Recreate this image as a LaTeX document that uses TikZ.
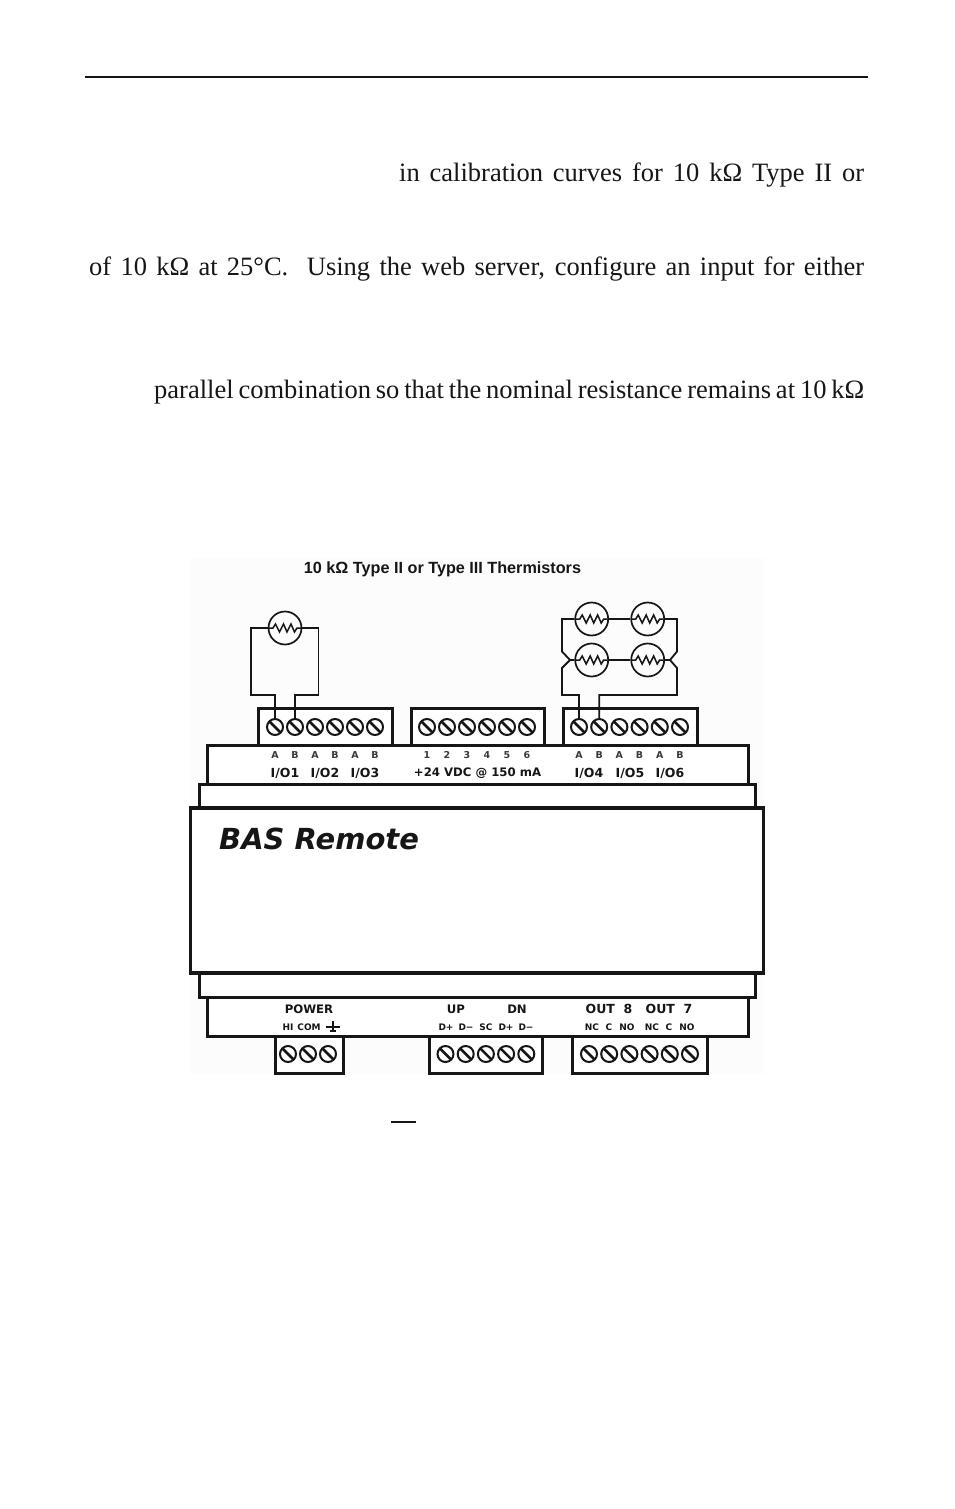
\documentclass[tikz,border=0pt]{standalone}
\usepackage{fontspec}
\setmainfont{Liberation Serif}
\newfontfamily\dvb{DejaVu Sans}[BoldFont={DejaVu Sans Bold},BoldItalicFont={DejaVu Sans Bold Oblique}]
\newfontfamily\lsans{Liberation Sans}
\definecolor{ink}{HTML}{161616}
\tikzset{
  x=1pt,y=-1pt,
  body/.style={anchor=base west,inner sep=0pt,font=\fontsize{26.5}{30}\selectfont,text=ink},
  box/.style={draw=ink,line width=3pt,fill=white,line join=miter},
  panel/.style={draw=ink,line width=3pt,fill=white},
  screw/.style={circle,draw=ink,line width=2pt,minimum size=16pt,inner sep=0pt,
    path picture={\draw[ink,line width=2.6pt] (path picture bounding box.north west) -- (path picture bounding box.south east);}},
  therm/.style={circle,draw=ink,line width=1.7pt,minimum size=33pt,inner sep=0pt,
    path picture={\draw[ink,line width=1.5pt,shift={(path picture bounding box.center)}]
      (-16,0)--(-12,0)--(-9.5,-4)--(-5.5,4)--(-1.5,-4)--(2,4)--(6,-4)--(9.5,4)--(12,0)--(16,0);}},
  wire/.style={draw=ink,line width=1.8pt,line join=miter},
  pin/.style={inner sep=0pt,text=ink!85,font=\dvb\bfseries\fontsize{9.5}{11}\selectfont},
  tiny/.style={inner sep=0pt,text=ink,font=\dvb\bfseries\fontsize{9}{11}\selectfont},
  lab/.style={inner sep=0pt,text=ink,font=\dvb\bfseries\fontsize{12.5}{15}\selectfont},
  labs/.style={inner sep=0pt,text=ink,font=\dvb\bfseries\fontsize{11.7}{15}\selectfont},
}
\begin{document}
\begin{tikzpicture}
\useasboundingbox (0,0) rectangle (954,1509);
\fill[white] (0,0) rectangle (954,1509);
\fill[black!1] (190,558) rectangle (764,1074);
\coordinate (ruleL) at (85,77); \coordinate (ruleR) at (868,77);
\draw[ink,line width=2.6pt] (ruleL) -- (ruleR);
% page text
\node[body] (l1) at (399,181) {\makebox[465pt][s]{in calibration curves for 10 kΩ Type II or}};
\node[body] (l2) at (89,275) {\makebox[775pt][s]{of 10 kΩ at 25°C.\ \ Using the web server, configure an input for either}};
\node[body] (l3) at (154,398) {\hbox to 710pt{\spaceskip=.2em plus .1em minus .1em\relax parallel combination so that the nominal resistance remains at 10 kΩ}};
\node[body] (dash) at (391,1129) {\makebox[25pt][l]{\rule[6.5pt]{25pt}{1.6pt}}};
\node[inner sep=0pt,text=ink,font=\lsans\bfseries\fontsize{16.2}{19}\selectfont] (title) at (442.5,569) {10 kΩ Type II or Type III Thermistors};
% housing, outer to inner
\draw[panel] (199,784) rectangle (755,808);
\draw[panel] (199,973) rectangle (755,997);
\draw[panel] (207,745) rectangle (748,784);
\draw[panel] (207,997) rectangle (748,1036);
\draw[draw=ink,line width=3.2pt,fill=white] (190.5,808) rectangle (763.5,973);
\node[anchor=base west,inner sep=0pt,text=ink,font=\dvb\bfseries\itshape\fontsize{29}{34}\selectfont] (brand) at (219,849.5) {BAS Remote};
% terminal blocks
\draw[box] (258,708.5) rectangle (392,745);
\draw[box] (411,708.5) rectangle (544,745);
\draw[box] (563,708.5) rectangle (697,745);
\draw[box] (275,1036) rectangle (343,1073);
\draw[box] (429,1036) rectangle (542,1073);
\draw[box] (572,1036) rectangle (707,1073);
% screws
\foreach \i in {0,...,5} {
  \node[screw] (ua\i) at ({275+20*\i},727) {};
  \node[screw] (ub\i) at ({427+20*\i},727) {};
  \node[screw] (uc\i) at ({579+20.2*\i},727) {};
  \node[screw] (lc\i) at ({589+20.2*\i},1054) {};
}
\foreach \i in {0,...,4} \node[screw] (lb\i) at ({445.5+20.2*\i},1054) {};
\foreach \i in {0,1,2} \node[screw] (la\i) at ({288+20*\i},1054) {};
% thermistors
\node[therm] (t0) at (285,628) {};
\node[therm] (t1) at (591.7,619) {};
\node[therm] (t2) at (647.7,619) {};
\node[therm] (t3) at (591.7,660) {};
\node[therm] (t4) at (647.7,660) {};
% wires
\draw[wire] (t0.west) -- (251,628) -- (251,695) -- (275,695) -- (ua0.north);
\draw[wire] (t0.east) -- (318.5,628) -- (318.5,695) -- (295,695) -- (ua1.north);
\draw[wire] (t1.east) -- (t2.west);
\draw[wire] (t3.east) -- (t4.west);
\draw[wire] (t1.west) -- (562,619) -- (562,651.5) -- (570,660) -- (t3.west);
\draw[wire] (t2.east) -- (677,619) -- (677,651.5) -- (670,660) -- (t4.east);
\draw[wire] (570,660) -- (562,668) -- (562,695) -- (579,695) -- (uc0.north);
\draw[wire] (670,660) -- (677,668) -- (677,695) -- (599.2,695) -- (uc1.north);
% upper labels
\foreach \i/\t in {0/A,1/B,2/A,3/B,4/A,5/B} {
  \node[pin] (pa\i) at ({275+20*\i},755) {\t};
  \node[pin] (pc\i) at ({579+20.2*\i},755) {\t};
}
\foreach \i/\t in {0/1,1/2,2/3,3/4,4/5,5/6} \node[pin] (pb\i) at ({427+20*\i},755) {\t};
\node[lab] (io1) at (285,773) {I/O1};
\node[lab] (io2) at (325,773) {I/O2};
\node[lab] (io3) at (365,773) {I/O3};
\node[labs] (vdc) at (477.5,773) {+24 VDC @ 150 mA};
\node[lab] (io4) at (589,773) {I/O4};
\node[lab] (io5) at (630,773) {I/O5};
\node[lab] (io6) at (670,773) {I/O6};
% lower labels
\node[labs] (pow) at (309,1009) {POWER};
\node[labs] (up) at (456,1009) {UP};
\node[labs] (dn) at (517,1009) {DN};
\node[lab] (o8) at (609,1009) {OUT\ \ 8};
\node[lab] (o7) at (669,1009) {OUT\ \ 7};
\foreach \n/\x/\t in {a/288/HI,b/309/COM,c/446/D+,d/466/D−,e/486/SC,f/506/D+,g/526/D−,h/592/NC,i/609/C,j/627/NO,k/652/NC,l/669/C,m/687/NO}
  \node[tiny] (q\n) at (\x,1027.5) {\t};
\coordinate (gt) at (332.7,1020.5); \coordinate (gb) at (332.7,1032);
\draw[ink,line width=1.8pt] (gt) -- (gb);
\draw[ink,line width=1.8pt] (326,1027) -- (339.5,1027);
\draw[ink,line width=1.6pt] (329.5,1031) -- (336,1031);
\end{tikzpicture}
\end{document}
